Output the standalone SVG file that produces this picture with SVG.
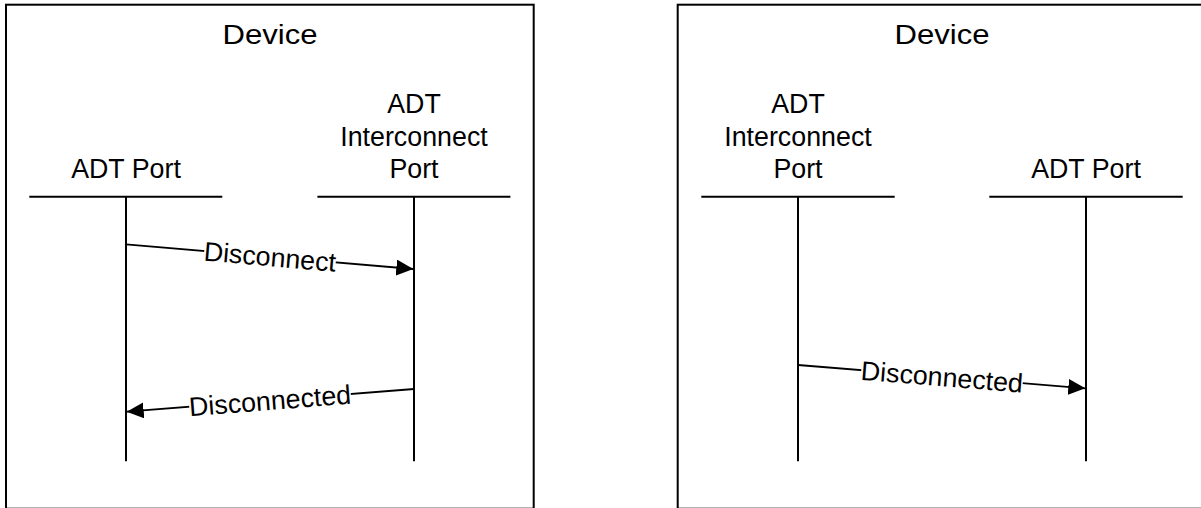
<svg xmlns="http://www.w3.org/2000/svg" width="1201" height="508" viewBox="0 0 1201 508">
  <style>
    .box { fill: #ffffff; stroke: #000000; stroke-width: 2; }
    .hdr { stroke: #000000; stroke-width: 2; }
    .life { stroke: #000000; stroke-width: 2; }
    .msg { stroke: #000000; stroke-width: 1.8; fill: none; marker-end: url(#arrow); }
    .lbl { font-family: "Liberation Sans", Arial, sans-serif; font-size: 26.8px; fill: #000000; text-anchor: middle; }
    .ttl { font-family: "Liberation Sans", Arial, sans-serif; font-size: 27.5px; fill: #000000; text-anchor: middle; }
    .bg { fill: #ffffff; stroke: none; }
  </style>
  <defs>
    <marker id="arrow" markerUnits="userSpaceOnUse" markerWidth="18" markerHeight="17" refX="17" refY="8" orient="auto">
      <path d="M0,0 L17,8 L0,16 z" fill="#000000"/>
    </marker>
  </defs>
  <rect width="1201" height="508" fill="#ffffff"/>

  <g id="device-left">
    <rect class="box" x="6" y="4.7" width="527.7" height="504"/>
    <text class="ttl" x="270" y="44" textLength="95" lengthAdjust="spacingAndGlyphs">Device</text>
  </g>
  <g id="left-adt-port">
    <text class="lbl" x="126" y="177.5">ADT Port</text>
    <line class="hdr" x1="29.3" y1="196.7" x2="222.3" y2="196.7"/>
    <line class="life" x1="126" y1="196.7" x2="126" y2="461.3"/>
  </g>
  <g id="left-interconnect-port">
    <text class="lbl" x="414" y="113.3">ADT</text>
    <text class="lbl" x="414" y="145.5">Interconnect</text>
    <text class="lbl" x="414" y="177.7">Port</text>
    <line class="hdr" x1="317.4" y1="196.7" x2="510.4" y2="196.7"/>
    <line class="life" x1="414" y1="196.7" x2="414" y2="461.3"/>
  </g>

  <g id="device-right">
    <rect class="box" x="677.7" y="4.7" width="528.6" height="504"/>
    <text class="ttl" x="942" y="44" textLength="95" lengthAdjust="spacingAndGlyphs">Device</text>
  </g>
  <g id="right-interconnect-port">
    <text class="lbl" x="798" y="113.3">ADT</text>
    <text class="lbl" x="798" y="145.5">Interconnect</text>
    <text class="lbl" x="798" y="177.7">Port</text>
    <line class="hdr" x1="701.3" y1="196.7" x2="894.7" y2="196.7"/>
    <line class="life" x1="798" y1="196.7" x2="798" y2="461.3"/>
  </g>
  <g id="right-adt-port">
    <text class="lbl" x="1086" y="177.5">ADT Port</text>
    <line class="hdr" x1="989.3" y1="196.7" x2="1182.7" y2="196.7"/>
    <line class="life" x1="1086" y1="196.7" x2="1086" y2="461.3"/>
  </g>

  <g id="connectors">
    <line class="msg" x1="126" y1="244.3" x2="413.3" y2="269"/>
    <g transform="translate(270,256.6) rotate(4.9)">
      <rect class="bg" x="-66" y="-13" width="132" height="26"/>
      <text class="lbl" x="0" y="9.5">Disconnect</text>
    </g>

    <line class="msg" x1="414" y1="389" x2="126.7" y2="411.7"/>
    <g transform="translate(270,400.4) rotate(-4.5)">
      <rect class="bg" x="-81" y="-13" width="162" height="26"/>
      <text class="lbl" x="0" y="9.5">Disconnected</text>
    </g>

    <line class="msg" x1="798" y1="365" x2="1085.3" y2="388.3"/>
    <g transform="translate(942,376.7) rotate(4.6)">
      <rect class="bg" x="-81" y="-13" width="162" height="26"/>
      <text class="lbl" x="0" y="9.5">Disconnected</text>
    </g>
  </g>
</svg>
